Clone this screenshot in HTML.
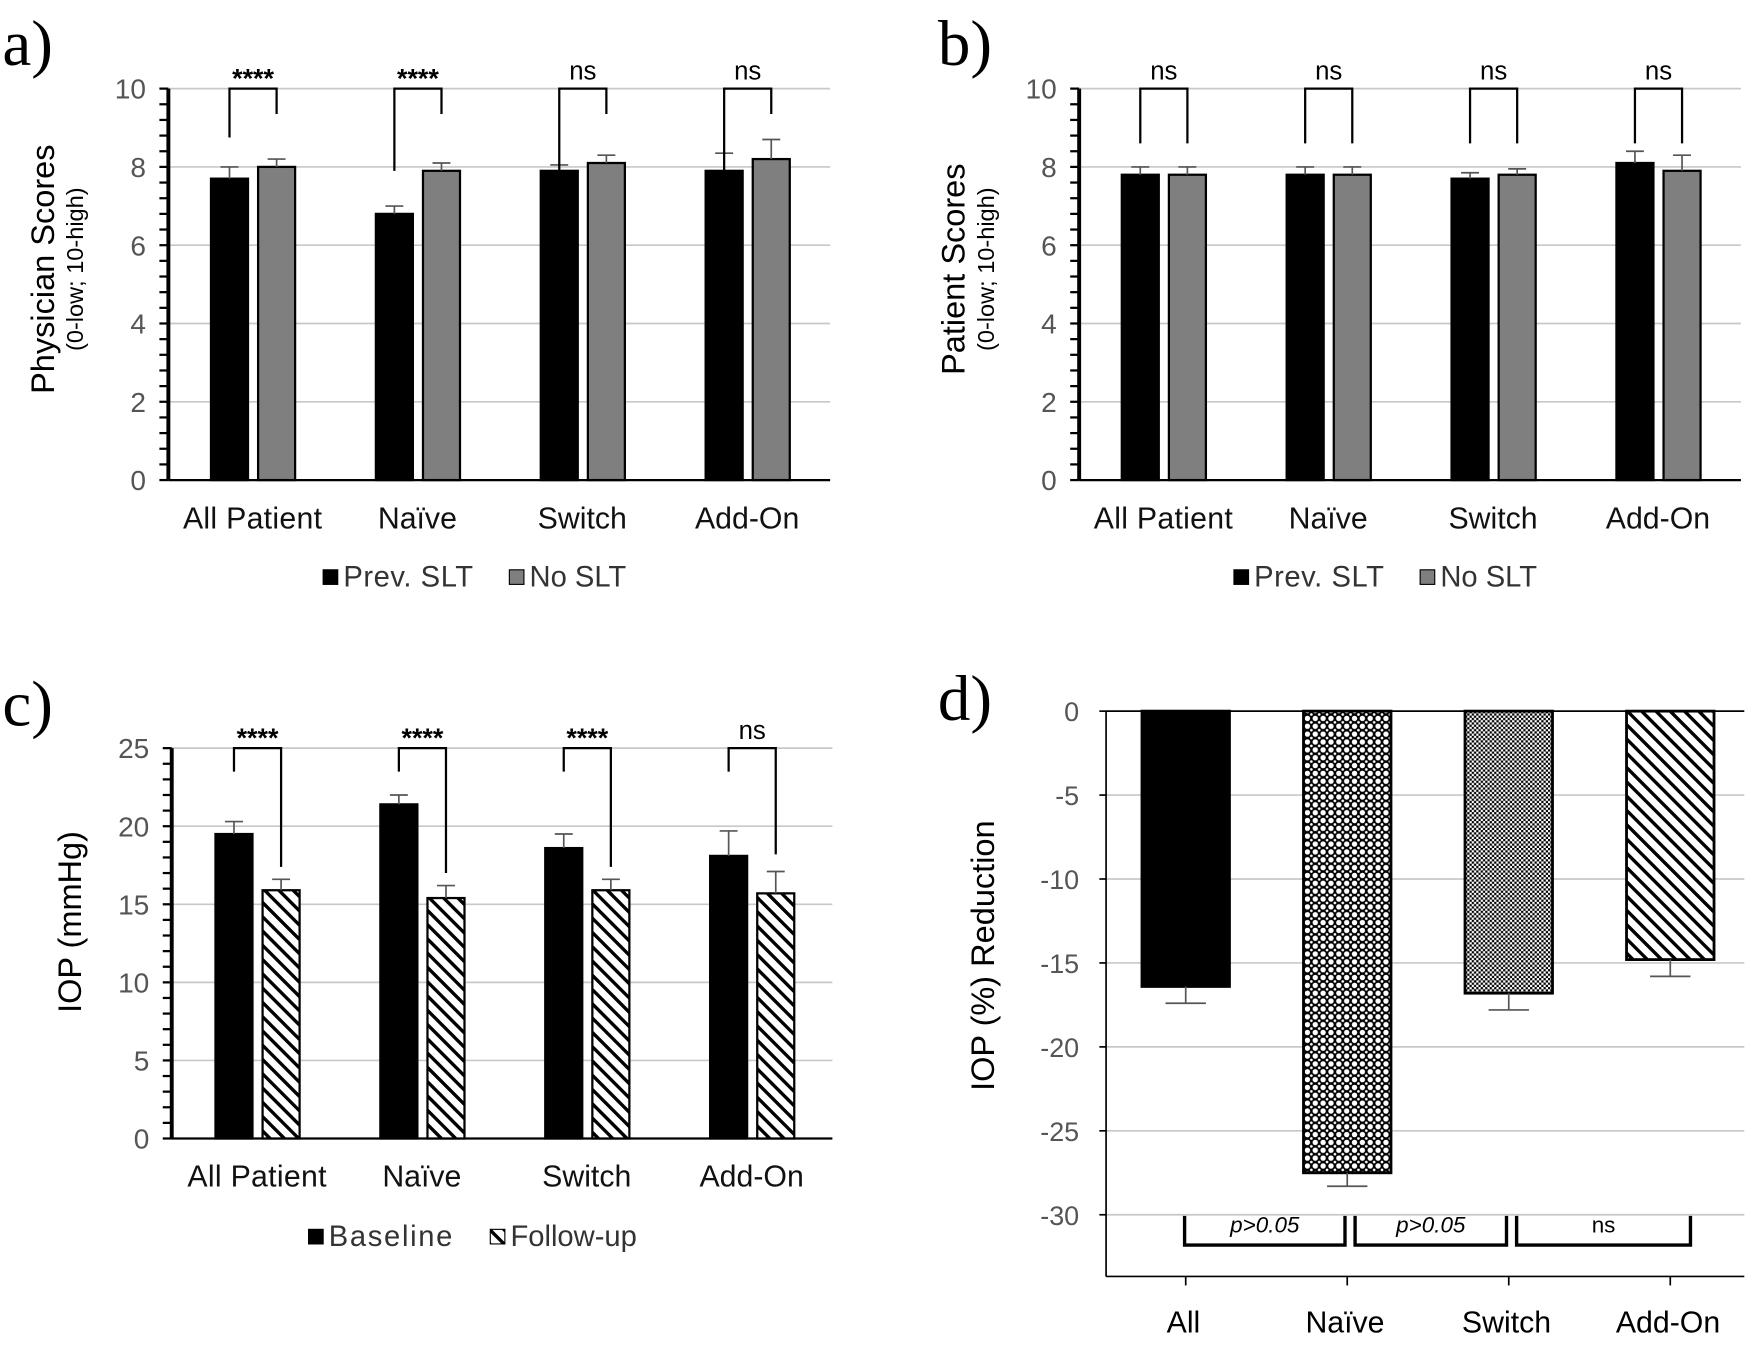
<!DOCTYPE html>
<html><head><meta charset="utf-8"><style>
html,body{margin:0;padding:0;background:#fff;}
svg{display:block;font-family:"Liberation Sans",Arial,sans-serif;}
</style></head><body>
<svg id="fig" width="1759" height="1346" viewBox="0 0 1568 1200" xmlns="http://www.w3.org/2000/svg">
<defs>
<pattern id="hatch" patternUnits="userSpaceOnUse" width="9" height="9" patternTransform="rotate(-45)">
<rect width="9" height="9" fill="#fff"/><rect x="0" y="0" width="3" height="9" fill="#000"/></pattern>
<pattern id="diamond" patternUnits="userSpaceOnUse" width="7" height="7">
<rect width="7" height="7" fill="#000"/><circle cx="3.5" cy="3.5" r="2.4" fill="#fff"/><circle cx="0" cy="0" r="1.2" fill="#fff"/><circle cx="7" cy="0" r="1.2" fill="#fff"/><circle cx="0" cy="7" r="1.2" fill="#fff"/><circle cx="7" cy="7" r="1.2" fill="#fff"/></pattern>
<pattern id="checker" patternUnits="userSpaceOnUse" width="4" height="4">
<rect width="4" height="4" fill="#fff"/><rect width="2" height="2" fill="#000"/><rect x="2" y="2" width="2" height="2" fill="#000"/></pattern>
</defs>
<g id="root"></g>
</svg>
<script>
// ---- data ----
const catsABC = ["All Patient","Naïve","Switch","Add-On"];
const aPrev = [7.7,6.8,7.9,7.9];
const aPrevErr = [0.3,0.2,0.15,0.45];
const aNo = [8.0,7.9,8.1,8.2];
const aNoErr = [0.2,0.2,0.2,0.5];
const aSig = ["****","****","ns","ns"];
const aLegL = [8.75,7.9,7.9,7.9];
const aLegR = [9.35,9.35,9.35,9.35];
const bPrev = [7.8,7.8,7.7,8.1];
const bPrevErr = [0.2,0.2,0.15,0.3];
const bNo = [7.8,7.8,7.8,7.9];
const bNoErr = [0.2,0.2,0.15,0.4];
const bSig = ["ns","ns","ns","ns"];
const bLegL = [8.6,8.6,8.6,8.6];
const bLegR = [8.6,8.6,8.6,8.6];
const cBase = [19.5,21.4,18.6,18.1];
const cBaseErr = [0.8,0.6,0.9,1.6];
const cFollow = [15.9,15.4,15.9,15.7];
const cFollowErr = [0.7,0.8,0.7,1.4];
const cSig = ["****","****","****","ns"];
const cLegL = [23.5,23.5,23.5,23.5];
const cLegR = [17.4,17.0,17.4,18.2];
const catsD = ["All","Naïve","Switch","Add-On"];
const dVals = [-16.4,-27.5,-16.8,-14.8];
const dErr = [1.0,0.8,1.0,1.0];
const dFills = ["#000","url(#diamond)","url(#checker)","url(#hatch)"];
const dCmp = ["p>0.05","p>0.05","ns"];
const ticksA = [0,2,4,6,8,10];
const ticksC = [0,5,10,15,20,25];
const ticksD = [0,-5,-10,-15,-20,-25,-30];

const NS="http://www.w3.org/2000/svg";
const root=document.getElementById('root');
function el(tag,attrs,parent,text){const e=document.createElementNS(NS,tag);for(const k in attrs)e.setAttribute(k,attrs[k]);if(text!==undefined)e.textContent=text;(parent||root).appendChild(e);return e;}
function grp(name){const g=el('g',{});


return g;}

function panelBar(o){
  const g=grp(o.name);
  const y=v=>o.y0-(v-o.min)/(o.max-o.min)*(o.y0-o.yTop);
  o.ticks.forEach(t=>{ if(t!==o.min){const l=el('line',{x1:o.x0,x2:o.x1,y1:y(t),y2:y(t),stroke:'#c8c8c8','stroke-width':1.5},g);
  
  }
  const tx=el('text',{x:o.x0-20,y:y(t)+9,'font-size':25,'text-anchor':'end',fill:'#555'},g,String(t));
  
  });
  for(let v=o.min;v<=o.max+1e-6;v+=o.minor){el('line',{x1:o.x0-8,x2:o.x0,y1:y(v),y2:y(v),stroke:'#000','stroke-width':2},g);}
  const ax=el('line',{x1:o.x0,x2:o.x0,y1:o.yTop,y2:o.y0,stroke:'#000','stroke-width':3.5},g);
  
  
  const bx=el('line',{x1:o.x0,x2:o.x1,y1:o.y0,y2:o.y0,stroke:'#000','stroke-width':2},g);
  
  
  const bw=33;
  o.cats.forEach((c,i)=>{
    const cx=o.c0+i*o.step;
    const xa=cx-37, xb=cx+5;
    [[o.s1,o.e1,xa,o.f1,o.k1],[o.s2,o.e2,xb,o.f2,o.k2]].forEach(([s,e,x,f,k])=>{
      const r=el('rect',{x:x,y:y(s[i]),width:bw,height:o.y0-y(s[i]),fill:f,stroke:'#000','stroke-width':2},g);
      
      
      const m=x+bw/2;
      el('line',{x1:m,x2:m,y1:y(s[i]),y2:y(s[i]+e[i]),stroke:'#555','stroke-width':1.5},g);
      el('line',{x1:m-8,x2:m+8,y1:y(s[i]+e[i]),y2:y(s[i]+e[i]),stroke:'#555','stroke-width':1.5},g);
    });
    const la=xa+bw/2, lb=xb+bw/2;
    const br=el('path',{d:`M${la},${y(o.legL[i])} V${y(o.max)} H${lb} V${y(o.legR[i])}`,fill:'none',stroke:'#000','stroke-width':2},g);
    
    
    const st=el('text',{x:(la+lb)/2,y:y(o.max)-(o.sig[i]==='ns'?8:1),'font-size':o.sig[i]==='ns'?23:24,'text-anchor':'middle','font-weight':o.sig[i]==='ns'?'normal':'bold'},g,o.sig[i]);
    
    
    const cl=el('text',{x:cx,y:o.y0+43,'font-size':27,'text-anchor':'middle',fill:'#111',textLength:c.length>6?124:undefined},g,c);
    if(c.length<=6) cl.removeAttribute('textLength');
    
    
  });
  const lg=el('g',{},g);
  
  
  const lx=o.legX, ly=o.legY;
  el('rect',{x:lx,y:ly-15,width:13,height:13,fill:o.f1,stroke:'#000','stroke-width':1},lg);
  el('text',{x:lx+18,y:ly,'font-size':26,fill:'#333','letter-spacing':o.k1==='baseline'?1.5:0.5},lg,o.l1);
  el('rect',{x:lx+o.legGap,y:ly-15,width:13,height:13,fill:o.f2,stroke:'#000','stroke-width':1},lg);
  el('text',{x:lx+o.legGap+18,y:ly,'font-size':26,fill:'#333'},lg,o.l2);
  const yt=el('text',{transform:`translate(${o.ytX},${o.ytY}) rotate(-90)`,'text-anchor':'middle','font-size':o.ytSize},g,o.ytitle);
  
  
  if(o.ysub){const ys=el('text',{transform:`translate(${o.ytX+26},${o.ytY}) rotate(-90)`,'text-anchor':'middle','font-size':21},g,o.ysub);
  
  }
  const pl=el('text',{x:o.plX,y:o.plY,'font-size':58,'font-family':'Liberation Serif, serif'},g,o.panel);
  
  
}

panelBar({name:'panel-a',x0:150,x1:740,y0:428,yTop:79,min:0,max:10,minor:0.4,ticks:ticksA,cats:catsABC,c0:225,step:147,
 s1:aPrev,e1:aPrevErr,s2:aNo,e2:aNoErr,f1:'#000',f2:'#7f7f7f',k1:'prev-slt',k2:'no-slt',sig:aSig,legL:aLegL,legR:aLegR,
 legX:288,legY:523,legGap:166,l1:'Prev. SLT',l2:'No SLT',ytitle:'Physician Scores',ytSize:29,ysub:'(0-low; 10-high)',ytX:48,ytY:240,panel:'a)',plX:2,plY:58});
panelBar({name:'panel-b',x0:962,x1:1552,y0:428,yTop:79,min:0,max:10,minor:0.4,ticks:ticksA,cats:catsABC,c0:1037,step:147,
 s1:bPrev,e1:bPrevErr,s2:bNo,e2:bNoErr,f1:'#000',f2:'#7f7f7f',k1:'prev-slt',k2:'no-slt',sig:bSig,legL:bLegL,legR:bLegR,
 legX:1100,legY:523,legGap:166,l1:'Prev. SLT',l2:'No SLT',ytitle:'Patient Scores',ytSize:29,ysub:'(0-low; 10-high)',ytX:860,ytY:240,panel:'b)',plX:836,plY:58});
panelBar({name:'panel-c',x0:153,x1:742,y0:1015,yTop:667,min:0,max:25,minor:1,ticks:ticksC,cats:catsABC,c0:229,step:147,
 s1:cBase,e1:cBaseErr,s2:cFollow,e2:cFollowErr,f1:'#000',f2:'url(#hatch)',k1:'baseline',k2:'follow-up',sig:cSig,legL:cLegL,legR:cLegR,
 legX:275,legY:1111,legGap:162,l1:'Baseline',l2:'Follow-up',ytitle:'IOP (mmHg)',ytSize:29,ysub:null,ytX:72,ytY:822,panel:'c)',plX:2,plY:647});

(function(){
  const g=grp('panel-d');
  const x0=986,x1=1555,y0=634,ym30=1083,yb=1138;
  const y=v=>y0+(-v)/30*(ym30-y0);
  ticksD.forEach(t=>{
    if(t!==0){const l=el('line',{x1:x0,x2:x1,y1:y(t),y2:y(t),stroke:'#c8c8c8','stroke-width':1.5},g);
    
    }
    el('line',{x1:x0-6,x2:x0,y1:y(t),y2:y(t),stroke:'#000','stroke-width':1.5},g);
    const tx=el('text',{x:x0-24,y:y(t)+9,'font-size':24,'text-anchor':'end',fill:'#555'},g,String(t));
    
    
  });
  const za=el('line',{x1:x0,x2:x1,y1:y0,y2:y0,stroke:'#000','stroke-width':1.5},g);
  
  
  const ya=el('line',{x1:x0,x2:x0,y1:y0,y2:yb,stroke:'#000','stroke-width':1.5},g);
  
  
  const xa=el('line',{x1:x0,x2:x1,y1:yb,y2:yb,stroke:'#000','stroke-width':1.5},g);
  
  
  const cx=[],step=144,c0=1057;
  catsD.forEach((c,i)=>{
    const m=c0+i*step; cx.push(m);
    const r=el('rect',{x:m-39,y:y0,width:78,height:y(dVals[i])-y0,fill:dFills[i],stroke:'#000','stroke-width':2.5},g);
    
    
    const eb=y(dVals[i]-dErr[i]);
    el('line',{x1:m,x2:m,y1:y(dVals[i]),y2:eb,stroke:'#555','stroke-width':1.5},g);
    el('line',{x1:m-18,x2:m+18,y1:eb,y2:eb,stroke:'#555','stroke-width':1.5},g);
    el('line',{x1:m,x2:m,y1:yb,y2:yb+8,stroke:'#000','stroke-width':1.5},g);
    const cl=el('text',{x:m-2,y:1188,'font-size':27,'text-anchor':'middle'},g,c);
    
    
  });
  dCmp.forEach((s,i)=>{
    const a=cx[i]-1+(i>0?8:0), b=cx[i+1]-2+(i==2?20:0);
    const p=el('path',{d:`M${a},${y(-30)+1} V1110 H${b} V${y(-30)+1}`,fill:'none',stroke:'#000','stroke-width':3},g);
    
    
    const t=el('text',{x:(a+b)/2,y:1099,'font-size':20,'text-anchor':'middle','font-style':s==='ns'?'normal':'italic'},g,s);
    
    
  });
  const yt=el('text',{transform:'translate(886,852) rotate(-90)','text-anchor':'middle','font-size':29},g,'IOP (%) Reduction');
  
  
  const pl=el('text',{x:836,y:642,'font-size':58,'font-family':'Liberation Serif, serif'},g,'d)');
  
  
})();
</script>
</body></html>
